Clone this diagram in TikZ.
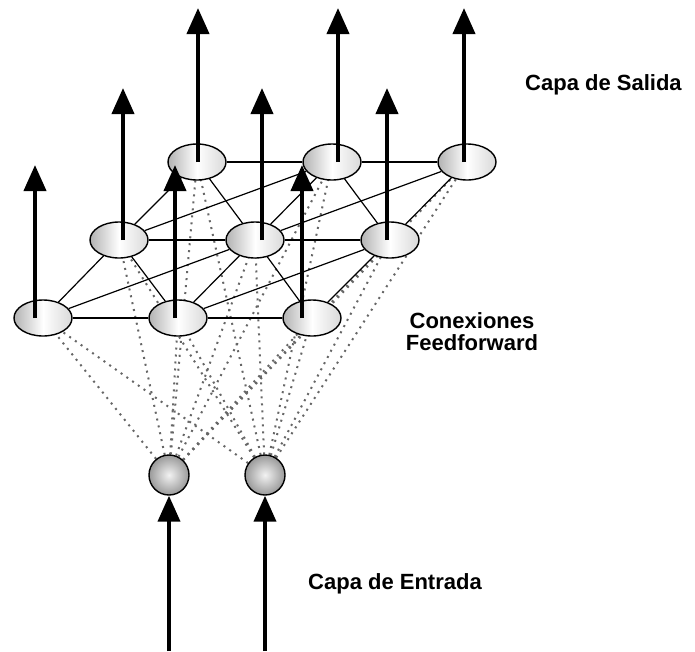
\documentclass[tikz,border=0pt]{standalone}
\usepackage{fontspec}
\setsansfont{Liberation Sans}
\usepackage{tikz}
\usetikzlibrary{arrows.meta,shapes.geometric,backgrounds}

\begin{document}
\begin{tikzpicture}[x=1pt, y=-1pt]
    \tikzstyle{cell}=[draw, ellipse, line width=1.4pt, minimum width=58pt, minimum height=36pt, inner sep=0pt,
      left color=gray!60, right color=gray!30, middle color=white]
    \tikzstyle{inball}=[draw, circle, line width=1.4pt, minimum size=40pt, inner sep=0pt,
      inner color=gray!10, outer color=gray!80]
    \tikzstyle{outarrow}=[line width=4pt, -{Triangle[width=22pt, length=26pt]}]
    \tikzstyle{link}=[line width=1.2pt]
    \tikzstyle{ffwd}=[black!60, line width=2pt, dash pattern=on 2pt off 5pt]
    \tikzstyle{caption}=[font=\sffamily\bfseries\fontsize{22}{22}\selectfont]
    \useasboundingbox (0,0) rectangle (695,651);
    % output layer, front / middle / back rows
    \node[cell] (b1) at (197,162) {};
    \node[cell] (b2) at (332,162) {};
    \node[cell] (b3) at (467,162) {};
    \node[cell] (m1) at (119,240) {};
    \node[cell] (m2) at (255,240) {};
    \node[cell] (m3) at (390,240) {};
    \node[cell] (f1) at (43,318) {};
    \node[cell] (f2) at (178,318) {};
    \node[cell] (f3) at (312,318) {};
    % input layer
    \node[inball] (in1) at (169,475) {};
    \node[inball] (in2) at (265,475) {};
    \begin{scope}[on background layer]
      \foreach \i in {in1,in2}
        \foreach \o in {f1,f2,f3,m1,m2,m3,b1,b2,b3}
          \draw[ffwd] (\i) -- (\o.center);
      \draw[link] (f1) -- (f2) -- (f3);
      \draw[link] (m1) -- (m2) -- (m3);
      \draw[link] (b1) -- (b2) -- (b3);
      \draw[link] (f1) -- (m1) -- (f2) -- (m2) -- (f3) -- (m3);
      \draw[link] (m1) -- (b1) -- (m2) -- (b2) -- (m3) -- (b3);
      \draw[link] (f1) -- (m2);
      \draw[link] (f2) -- (m3);
      \draw[link] (m1) -- (b2);
      \draw[link] (m2) -- (b3);
    \end{scope}
    % outputs
    \draw[outarrow] (b1.center) ++(1,0) -- ++(0,-154);
    \draw[outarrow] (b2.center) ++(6,0) -- ++(0,-154);
    \draw[outarrow] (b3.center) ++(-3,0) -- ++(0,-154);
    \draw[outarrow] (m1.center) ++(4,0) -- ++(0,-152);
    \draw[outarrow] (m2.center) ++(7,0) -- ++(0,-152);
    \draw[outarrow] (m3.center) ++(-3,0) -- ++(0,-152);
    \draw[outarrow] (f1.center) ++(-8,0) -- ++(0,-153);
    \draw[outarrow] (f2.center) ++(-3,0) -- ++(0,-153);
    \draw[outarrow] (f3.center) ++(-10,0) -- ++(0,-153);
    % inputs
    \coordinate (s1) at (169,651);
    \coordinate (s2) at (265,651);
    \draw[outarrow] (s1) -- (in1);
    \draw[outarrow] (s2) -- (in2);
    % labels
    \node[caption, anchor=base west, inner sep=0pt] (salida) at (525,90) {Capa de Salida};
    \node[caption, anchor=base, align=center, inner sep=0pt] (ffwdlabel) at (472,350) {Conexiones\\Feedforward};
    \node[caption, anchor=base west, inner sep=0pt] (entrada) at (308,589) {Capa de Entrada};
\end{tikzpicture}
\end{document}
